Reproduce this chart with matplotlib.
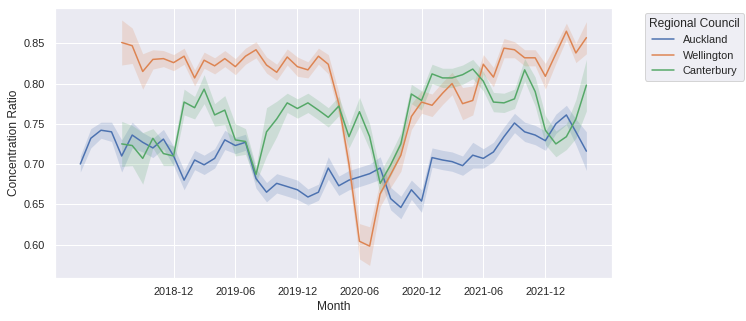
"""
Regional concentration ratio by month
"""
import numpy as np
import pandas as pd
import matplotlib
matplotlib.use('Agg')
import matplotlib.pyplot as plt
import matplotlib.dates as mdates
import seaborn as sns

# Monthly means (Auckland from 2018-03, others from 2018-07)
auckland = [0.700, 0.732, 0.742, 0.740, 0.710, 0.736, 0.727, 0.720, 0.731, 0.710,
            0.680, 0.705, 0.699, 0.707, 0.730, 0.723, 0.727, 0.682, 0.665, 0.676, 0.672, 0.668,
            0.659, 0.665, 0.695, 0.673, 0.680, 0.684, 0.688, 0.695, 0.657, 0.646, 0.668, 0.654,
            0.708, 0.705, 0.703, 0.698, 0.711, 0.707, 0.715, 0.734, 0.751, 0.740, 0.736, 0.729,
            0.750, 0.761, 0.740, 0.716]
auckland_ci = [0.010, 0.012, 0.010, 0.012, 0.020, 0.016, 0.012, 0.012, 0.012, 0.012,
               0.012, 0.012, 0.012, 0.012, 0.012, 0.010, 0.010, 0.012, 0.012, 0.012, 0.012, 0.012,
               0.010, 0.010, 0.014, 0.012, 0.012, 0.012, 0.012, 0.014, 0.014, 0.014, 0.012, 0.014,
               0.012, 0.012, 0.012, 0.012, 0.016, 0.012, 0.012, 0.012, 0.012, 0.012, 0.012, 0.012,
               0.012, 0.012, 0.016, 0.024]

wellington = [0.851, 0.847, 0.815, 0.830, 0.831, 0.826,
              0.834, 0.807, 0.829, 0.822, 0.831, 0.821, 0.834, 0.842, 0.823, 0.814, 0.833, 0.821,
              0.817, 0.834, 0.824, 0.775, 0.700, 0.604, 0.598, 0.663, 0.687, 0.711, 0.759, 0.777,
              0.773, 0.788, 0.800, 0.775, 0.779, 0.824, 0.808, 0.844, 0.842, 0.832, 0.832, 0.809,
              0.837, 0.865, 0.838, 0.857]
wellington_ci = [0.028, 0.022, 0.022, 0.012, 0.010, 0.010,
                 0.010, 0.010, 0.010, 0.010, 0.010, 0.010, 0.010, 0.010, 0.010, 0.010, 0.010, 0.012,
                 0.010, 0.010, 0.012, 0.014, 0.016, 0.022, 0.024, 0.016, 0.016, 0.020, 0.016, 0.014,
                 0.014, 0.014, 0.014, 0.020, 0.018, 0.012, 0.012, 0.012, 0.010, 0.010, 0.010, 0.016,
                 0.012, 0.010, 0.012, 0.020]

canterbury = [0.725, 0.723, 0.707, 0.732, 0.713, 0.710,
              0.777, 0.770, 0.793, 0.761, 0.767, 0.730, 0.728, 0.687, 0.740, 0.756, 0.776, 0.769,
              0.776, 0.767, 0.758, 0.772, 0.734, 0.765, 0.734, 0.676, 0.699, 0.725, 0.787, 0.779,
              0.812, 0.807, 0.807, 0.811, 0.818, 0.803, 0.777, 0.776, 0.781, 0.817, 0.790, 0.742,
              0.725, 0.734, 0.756, 0.798]
canterbury_ci = [0.028, 0.025, 0.032, 0.012, 0.015, 0.012,
                 0.016, 0.014, 0.018, 0.014, 0.018, 0.020, 0.016, 0.010, 0.030, 0.022, 0.012, 0.012,
                 0.012, 0.012, 0.012, 0.012, 0.014, 0.018, 0.016, 0.014, 0.014, 0.014, 0.012, 0.012,
                 0.012, 0.012, 0.012, 0.012, 0.012, 0.012, 0.012, 0.012, 0.012, 0.014, 0.018, 0.018,
                 0.016, 0.016, 0.024, 0.032]

months_akl = pd.date_range('2018-03-01', periods=len(auckland), freq='MS')
months_other = pd.date_range('2018-07-01', periods=len(wellington), freq='MS')
tick_months = pd.to_datetime(['2018-12-01', '2019-06-01', '2019-12-01', '2020-06-01',
                              '2020-12-01', '2021-06-01', '2021-12-01'])

series = [
    ('Auckland', months_akl, auckland, auckland_ci),
    ('Wellington', months_other, wellington, wellington_ci),
    ('Canterbury', months_other, canterbury, canterbury_ci),
]

sns.set_theme()
plt.rcParams['font.family'] = ['Liberation Sans', 'DejaVu Sans']
colors = sns.color_palette('deep')

fig = plt.figure(figsize=(746 / 72, 321 / 72), dpi=72)
ax = fig.add_axes([55 / 746, 1 - 277.7 / 321, 556.7 / 746, 270 / 321])

for (name, x, y, ci), c in zip(series, colors):
    y = np.array(y)
    ci = np.array(ci)
    ax.plot(x, y, color=c, linewidth=1.5, label=name)
    ax.fill_between(x, y - ci, y + ci, color=c, alpha=0.2, linewidth=0)

ax.set_xticks(tick_months)
ax.xaxis.set_major_formatter(mdates.DateFormatter('%Y-%m'))
ax.set_xlabel('Month', fontsize=12)
ax.set_ylabel('Concentration Ratio', fontsize=12)
ax.tick_params(labelsize=11)

ax.legend(title='Regional Council', bbox_to_anchor=(1.05, 1), loc='upper left',
          fontsize=11, title_fontsize=12)

plt.savefig('out.png', dpi=72)
